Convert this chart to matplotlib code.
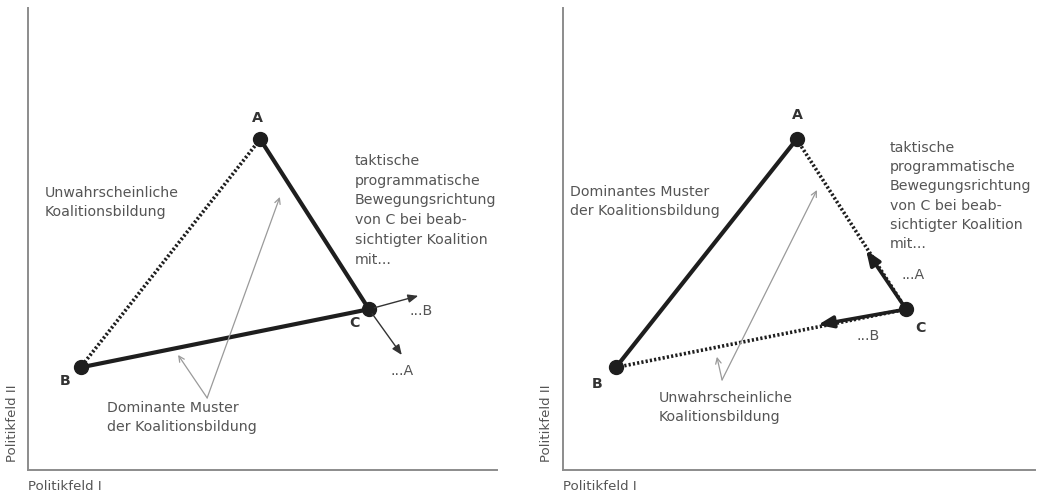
import matplotlib.pyplot as plt

# Koordinaten der Parteien (Politikfeld I, Politikfeld II), gleich in beiden Skizzen
parteien = ['A', 'B', 'C']
pos_x = [4.95, 1.12, 7.27]
pos_y = [7.16, 2.22, 3.48]

# Position der Buchstaben neben den Punkten
lab_links_x = [4.90, 0.79, 6.97]
lab_links_y = [7.62, 1.93, 3.18]
lab_rechts_x = [4.96, 0.72, 7.58]
lab_rechts_y = [7.68, 1.86, 3.07]

# Richtung von C ... (Spitzen der Pfeile)
links_ziel_B = (8.32, 3.77)
links_ziel_A = (7.97, 2.49)
rechts_ziel_A = (6.42, 4.76)
rechts_ziel_B = (5.40, 3.14)

taktik = ('taktische\nprogrammatische\nBewegungsrichtung\nvon C bei beab-\n'
          'sichtigter Koalition\nmit...')

dunkel = '#1e1e1e'
grau = '#555555'
achse = '#8c8c8c'
fs = 10.2
fs_achse = 9.6

fig = plt.figure(figsize=(10.42, 4.93), dpi=100)
ax1 = fig.add_axes([28/1042, 23/493, 469/1042, 462/493])
ax2 = fig.add_axes([563/1042, 23/493, 472/1042, 462/493])

for ax in (ax1, ax2):
    ax.set_xlim(0, 10)
    ax.set_ylim(0, 10)
    ax.set_xticks([])
    ax.set_yticks([])
    for s in ['top', 'right']:
        ax.spines[s].set_visible(False)
    for s in ['left', 'bottom']:
        ax.spines[s].set_color(achse)
        ax.spines[s].set_linewidth(1.4)
    ax.text(0, -0.22, 'Politikfeld I', ha='left', va='top', fontsize=fs_achse, color=grau)
    ax.text(-0.34, 0.18, 'Politikfeld II', ha='center', va='bottom', rotation=90,
            fontsize=fs_achse, color=grau)

A = (pos_x[0], pos_y[0])
B = (pos_x[1], pos_y[1])
C = (pos_x[2], pos_y[2])

# ---------------- linke Skizze ----------------
ax1.plot([A[0], C[0]], [A[1], C[1]], color=dunkel, lw=3, solid_capstyle='round')
ax1.plot([B[0], C[0]], [B[1], C[1]], color=dunkel, lw=3, solid_capstyle='round')
ax1.plot([A[0], B[0]], [A[1], B[1]], color=dunkel, lw=2.6, linestyle=(0, (0.6, 0.6)))
ax1.plot(pos_x, pos_y, 'o', color=dunkel, markersize=10)
for i, p in enumerate(parteien):
    ax1.text(lab_links_x[i], lab_links_y[i], p, ha='center', va='center',
             fontsize=fs, fontweight='bold', color='#333333')

for ziel in (links_ziel_B, links_ziel_A):
    ax1.annotate('', xy=ziel, xytext=C,
                 arrowprops=dict(arrowstyle='-|>,head_length=0.6,head_width=0.25',
                                 color='#333333', lw=1, shrinkA=4, shrinkB=0))
ax1.text(8.14, 3.44, '...B', ha='left', va='center', fontsize=fs, color=grau)
ax1.text(7.72, 2.14, '...A', ha='left', va='center', fontsize=fs, color=grau)

spitze = (3.82, 1.56)
for ziel in ((3.20, 2.49), (5.37, 5.91)):
    ax1.annotate('', xy=ziel, xytext=spitze,
                 arrowprops=dict(arrowstyle='->,head_length=0.4,head_width=0.2',
                                 color='#9a9a9a', lw=0.9, shrinkA=0, shrinkB=0))

ax1.text(0.36, 6.14, 'Unwahrscheinliche\nKoalitionsbildung', ha='left', va='top',
         fontsize=fs, color=grau, linespacing=1.45)
ax1.text(1.68, 1.49, 'Dominante Muster\nder Koalitionsbildung', ha='left', va='top',
         fontsize=fs, color=grau, linespacing=1.45)
ax1.text(6.97, 6.84, taktik, ha='left', va='top', fontsize=fs, color=grau,
         linespacing=1.52)

# ---------------- rechte Skizze ----------------
ax2.plot([A[0], B[0]], [A[1], B[1]], color=dunkel, lw=3, solid_capstyle='round')
ax2.plot([A[0], C[0]], [A[1], C[1]], color=dunkel, lw=2.6, linestyle=(0, (0.6, 0.6)))
ax2.plot([B[0], C[0]], [B[1], C[1]], color=dunkel, lw=2.6, linestyle=(0, (0.6, 0.6)))
ax2.plot(pos_x, pos_y, 'o', color=dunkel, markersize=10)
for i, p in enumerate(parteien):
    ax2.text(lab_rechts_x[i], lab_rechts_y[i], p, ha='center', va='center',
             fontsize=fs, fontweight='bold', color='#333333')

for ziel in (rechts_ziel_A, rechts_ziel_B):
    ax2.annotate('', xy=ziel, xytext=C,
                 arrowprops=dict(arrowstyle='-|>,head_length=0.9,head_width=0.35',
                                 color=dunkel, lw=2.6, shrinkA=0, shrinkB=0))
ax2.text(7.18, 4.22, '...A', ha='left', va='center', fontsize=fs, color=grau)
ax2.text(6.21, 2.90, '...B', ha='left', va='center', fontsize=fs, color=grau)

spitze = (3.37, 1.95)
for ziel in ((3.26, 2.45), (5.38, 6.06)):
    ax2.annotate('', xy=ziel, xytext=spitze,
                 arrowprops=dict(arrowstyle='->,head_length=0.4,head_width=0.2',
                                 color='#9a9a9a', lw=0.9, shrinkA=0, shrinkB=0))

ax2.text(0.15, 6.17, 'Dominantes Muster\nder Koalitionsbildung', ha='left', va='top',
         fontsize=fs, color=grau, linespacing=1.45)
ax2.text(2.03, 1.71, 'Unwahrscheinliche\nKoalitionsbildung', ha='left', va='top',
         fontsize=fs, color=grau, linespacing=1.45)
ax2.text(6.93, 7.12, taktik, ha='left', va='top', fontsize=fs, color=grau,
         linespacing=1.47)

fig.savefig('out.png', dpi=100)
